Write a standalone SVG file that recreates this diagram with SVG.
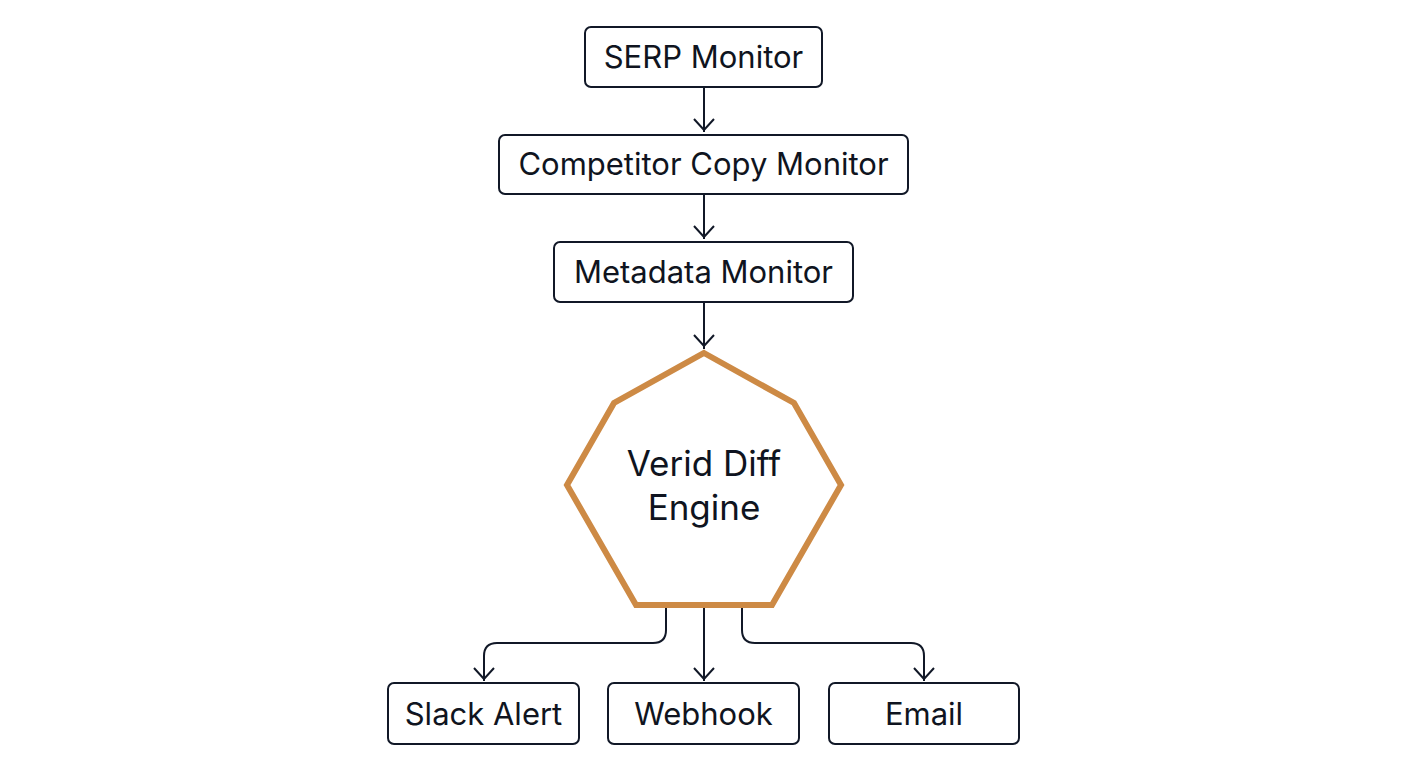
<svg xmlns="http://www.w3.org/2000/svg" width="1408" height="768" viewBox="0 0 1408 768">
<style>
.box{fill:#fff;stroke:#111827;stroke-width:2}
.t{font-family:Inter,"Noto Sans",sans-serif;font-size:31px;fill:#0f1420;text-anchor:middle}
.h{font-size:35px}
.c{fill:none;stroke:#111827;stroke-width:2}
</style>
<rect width="1408" height="768" fill="#fff"/>
<g id="connectors">
<path class="c" d="M704,87 V132"/>
<path class="c" d="M704,194 V239"/>
<path class="c" d="M704,302 V349"/>
<path class="c" d="M666,607 V630 Q666,643 653,643 H497 Q484,643 484,656 V681"/>
<path class="c" d="M704,607 V681"/>
<path class="c" d="M742,607 V630 Q742,643 755,643 H911 Q924,643 924,656 V681"/>
<path class="c" d="M694,119 L704,130 L714,119"/>
<path class="c" d="M694,226 L704,237 L714,226"/>
<path class="c" d="M694,335 L704,346 L714,335"/>
<path class="c" d="M474,668 L484,679 L494,668"/>
<path class="c" d="M694,668 L704,679 L714,668"/>
<path class="c" d="M914,668 L924,679 L934,668"/>
</g>
<g id="serp">
<rect class="box" x="585" y="27" width="237" height="60" rx="6"/>
<text class="t" x="703.5" y="68">SERP Monitor</text>
</g>
<g id="competitor">
<rect class="box" x="499" y="135" width="409" height="59" rx="6"/>
<text class="t" x="703.5" y="175">Competitor Copy Monitor</text>
</g>
<g id="metadata">
<rect class="box" x="554" y="242" width="299" height="60" rx="6"/>
<text class="t" x="703.5" y="283">Metadata Monitor</text>
</g>
<g id="engine">
<polygon points="704,353 794,403 841,485 772,605 636,605 567,485 614,403" fill="#fff" stroke="#CD8A45" stroke-width="6" stroke-linejoin="miter"/>
<text class="t h" x="704" y="476">Verid Diff</text>
<text class="t h" x="704" y="520">Engine</text>
</g>
<g id="slack">
<rect class="box" x="388" y="683" width="191" height="61" rx="6"/>
<text class="t" x="483.5" y="725">Slack Alert</text>
</g>
<g id="webhook">
<rect class="box" x="608" y="683" width="191" height="61" rx="6"/>
<text class="t" x="703.5" y="725">Webhook</text>
</g>
<g id="email">
<rect class="box" x="829" y="683" width="190" height="61" rx="6"/>
<text class="t" x="924" y="725">Email</text>
</g>
</svg>
